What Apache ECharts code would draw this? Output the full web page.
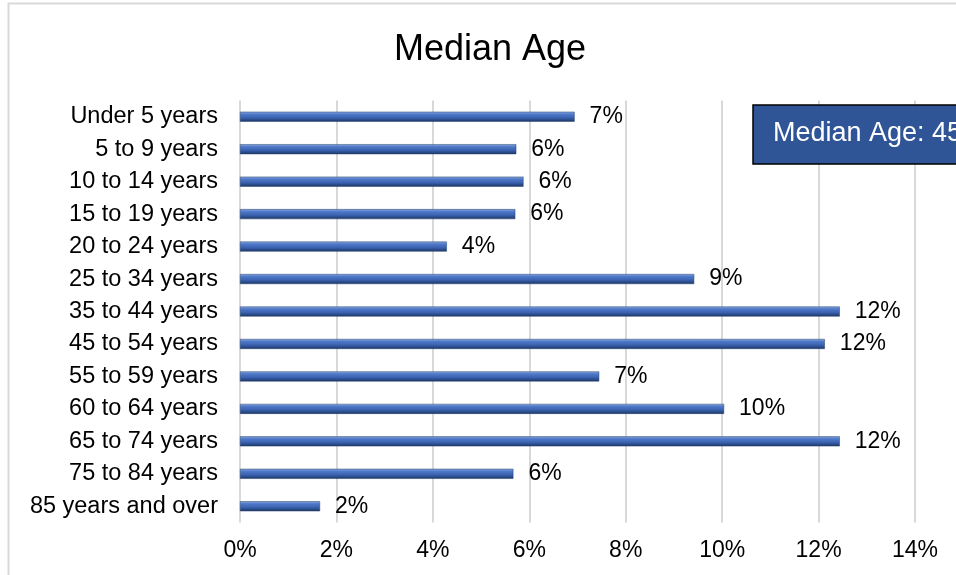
<!DOCTYPE html>
<html><head><meta charset="utf-8">
<script src="https://cdn.jsdelivr.net/npm/echarts@6/dist/echarts.min.js"></script>
<style>html,body{margin:0;padding:0;background:#fff;}#c{width:956px;height:575px;}</style>
</head><body><div id="c"></div>
<script>
const categories = ["Under 5 years","5 to 9 years","10 to 14 years","15 to 19 years","20 to 24 years","25 to 34 years","35 to 44 years","45 to 54 years","55 to 59 years","60 to 64 years","65 to 74 years","75 to 84 years","85 years and over"];
const values = [6.94, 5.73, 5.88, 5.71, 4.29, 9.42, 12.44, 12.13, 7.45, 10.04, 12.44, 5.67, 1.66];
const labels = ["7%","6%","6%","6%","4%","9%","12%","12%","7%","10%","12%","6%","2%"];
const xTicks = [0,2,4,6,8,10,12,14];
const titleText = "Median Age";
const noteText = "Median Age: 45";

const chart = echarts.init(document.getElementById('c'), null, {renderer:'canvas'});
const font = "Liberation Sans, Arial, sans-serif";
chart.setOption({
  animation:false,
  backgroundColor:'#fff',
  title:{text:titleText,left:389,top:27,textStyle:{fontFamily:font,fontSize:36,fontWeight:'normal',color:'#000'}},
  grid:{left:240,right:41,top:100.5,bottom:52.5,containLabel:false},
  xAxis:{type:'value',min:xTicks[0],max:xTicks[xTicks.length-1],interval:2,
    axisLine:{show:false},axisTick:{show:false},
    splitLine:{show:true,lineStyle:{color:'#d9d9d9',width:2}},
    axisLabel:{formatter:v=>v+'%',fontFamily:font,fontSize:23,color:'#000',margin:17}},
  yAxis:{type:'category',data:categories,inverse:true,
    axisLine:{show:false},axisTick:{show:false},
    axisLabel:{fontFamily:font,fontSize:23.5,color:'#000',margin:22}},
  series:[{type:'bar',data:values,barWidth:10,
    itemStyle:{color:new echarts.graphic.LinearGradient(0,0,0,1,[
      {offset:0,color:'#8aa9e0'},{offset:0.25,color:'#4f79c8'},{offset:0.6,color:'#3a62b0'},{offset:1,color:'#1c3563'}]),
      borderColor:'#24406f',borderWidth:0.5},
    label:{show:true,position:'right',distance:15,fontFamily:font,fontSize:23,color:'#000',
      formatter:p=>labels[p.dataIndex]}
  }],
  graphic:[
    {type:'rect',shape:{x:8.5,y:3.5,width:960,height:600},style:{fill:null,stroke:'#d9d9d9',lineWidth:2},z:-10},
    {type:'rect',shape:{x:753,y:105,width:220,height:59},style:{fill:'#2f5597',stroke:'#000',lineWidth:1.5},z:100},
    {type:'text',x:773,y:134,style:{text:noteText,fill:'#fff',font:'27px '+font,verticalAlign:'middle'},z:101}
  ]
});
</script></body></html>
